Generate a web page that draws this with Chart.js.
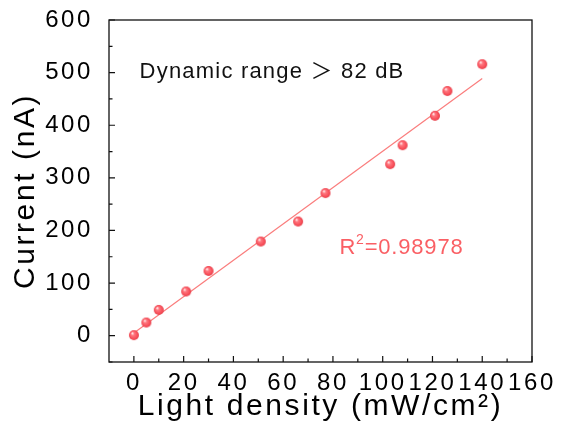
<!DOCTYPE html>
<html>
<head>
<meta charset="utf-8">
<script src="https://cdn.jsdelivr.net/npm/chart.js@4/dist/chart.umd.min.js"></script>
<style>
  html, body { margin: 0; padding: 0; background: #fff; }
  #wrap { width: 561px; height: 446px; }
</style>
</head>
<body>
<div id="wrap"><canvas id="chart" width="561" height="446"></canvas></div>
<script>
// measured points (light density vs current)
const lightDensity = [0, 5, 10, 21, 30, 51, 66, 77, 103, 108, 121, 126, 140];
const currentNA = [1, 25, 49, 84, 123, 179, 217, 271, 326, 362, 418, 465, 516];

// linear fit line, two end points
const fitX = [0, 140];
const fitY = [5, 489];

const xTicks = [0, 20, 40, 60, 80, 100, 120, 140, 160];
const yTicks = [0, 100, 200, 300, 400, 500, 600];

const FONT = "'Liberation Sans', Arial, 'Noto Sans CJK SC', sans-serif";
const RED = 'rgb(250, 95, 100)';

// shaded ball marker
function makeBall(r) {
    const c = document.createElement('canvas');
    c.width = c.height = r * 2 + 2;
    const g = c.getContext('2d');
    const cx = r + 1, cy = r + 1;
    const grad = g.createRadialGradient(cx - r * 0.35, cy - r * 0.4, 0.3, cx, cy, r);
    grad.addColorStop(0, '#fff1f1');
    grad.addColorStop(0.3, '#ff7880');
    grad.addColorStop(0.8, '#f74c57');
    grad.addColorStop(1, '#e2434e');
    g.fillStyle = grad;
    g.beginPath();
    g.arc(cx, cy, r, 0, Math.PI * 2);
    g.fill();
    return c;
}
const ball = makeBall(5);

// the original figure uses a wider face than Arial, spread the letters a bit
const wideText = {
    id: 'wideText',
    beforeDraw(chart) {
        chart.ctx.letterSpacing = '2.6px';
    }
};

// no extra room for label overflow, the layout padding decides the plot box
function noPad(s) {
    s.paddingTop = 0;
    s.paddingBottom = 0;
    s.paddingLeft = 0;
    s.paddingRight = 0;
}

const frameAndTicks = {
    id: 'frameAndTicks',
    afterDatasetsDraw(chart) {
        const { ctx, chartArea: a, scales } = chart;
        ctx.save();
        ctx.strokeStyle = '#111';
        ctx.lineWidth = 1.3;
        ctx.strokeRect(a.left, a.top, a.right - a.left, a.bottom - a.top);
        ctx.lineWidth = 1.2;
        ctx.beginPath();
        // inward ticks on bottom axis, minor every 10
        for (let v = 0; v <= 160; v += 10) {
            const px = scales.x.getPixelForValue(v);
            const len = v % 20 === 0 ? 6 : 3.5;
            ctx.moveTo(px, a.bottom);
            ctx.lineTo(px, a.bottom - len);
        }
        // inward ticks on left axis, minor every 50
        for (let v = -50; v <= 600; v += 50) {
            const py = scales.y.getPixelForValue(v);
            const len = v % 100 === 0 ? 6 : 3.5;
            ctx.moveTo(a.left, py);
            ctx.lineTo(a.left + len, py);
        }
        ctx.stroke();

        // annotations
        ctx.textBaseline = 'alphabetic';
        ctx.textAlign = 'left';
        ctx.fillStyle = '#111';
        ctx.letterSpacing = '1.2px';
        ctx.font = '22px ' + FONT;
        let x = scales.x.getPixelForValue(2.3);
        let y = scales.y.getPixelForValue(490);
        ctx.fillText('Dynamic range \uFF1E 82 dB', x, y);

        ctx.fillStyle = RED;
        ctx.letterSpacing = '0.8px';
        x = scales.x.getPixelForValue(82.6);
        y = scales.y.getPixelForValue(156);
        ctx.fillText('R', x, y);
        x += ctx.measureText('R').width;
        ctx.font = '14px ' + FONT;
        ctx.fillText('2', x, y - 10);
        x += ctx.measureText('2').width;
        ctx.font = '22px ' + FONT;
        ctx.fillText('=0.98978', x, y);
        ctx.restore();
    }
};

new Chart(document.getElementById('chart'), {
    type: 'scatter',
    data: {
        datasets: [
            {
                type: 'line',
                data: fitX.map((v, i) => ({ x: v, y: fitY[i] })),
                borderColor: 'rgb(250, 125, 125)',
                borderWidth: 1.2,
                pointRadius: 0,
                fill: false,
                order: 2
            },
            {
                data: lightDensity.map((v, i) => ({ x: v, y: currentNA[i] })),
                pointStyle: ball,
                pointRadius: 5,
                order: 1
            }
        ]
    },
    options: {
        responsive: false,
        devicePixelRatio: 1,
        animation: false,
        layout: { padding: { top: 20, right: 29, left: 0, bottom: 0 } },
        plugins: { legend: { display: false }, tooltip: { enabled: false } },
        scales: {
            x: {
                type: 'linear',
                min: -10,
                max: 160,
                afterBuildTicks: s => { s.ticks = xTicks.map(v => ({ value: v })); },
                afterFit: s => { s.height = 84; noPad(s); },
                grid: { display: false, drawTicks: false },
                border: { display: false },
                ticks: { color: '#000', font: { family: FONT, size: 24 }, padding: 7, maxRotation: 0, autoSkip: false },
                title: {
                    display: true,
                    text: 'Light density (mW/cm\u00B2)',
                    color: '#000',
                    font: { family: FONT, size: 30 },
                    padding: { top: 0, bottom: 21 }
                }
            },
            y: {
                type: 'linear',
                min: -50,
                max: 600,
                afterBuildTicks: s => { s.ticks = yTicks.map(v => ({ value: v })); },
                afterFit: s => { s.width = 109; noPad(s); },
                grid: { display: false, drawTicks: false },
                border: { display: false },
                ticks: { color: '#000', font: { family: FONT, size: 24 }, padding: 16, autoSkip: false },
                title: {
                    display: true,
                    text: 'Current (nA)',
                    color: '#000',
                    font: { family: FONT, size: 30 },
                    padding: { top: 8, bottom: 0 }
                }
            }
        }
    },
    plugins: [wideText, frameAndTicks]
});
</script>
</body>
</html>
